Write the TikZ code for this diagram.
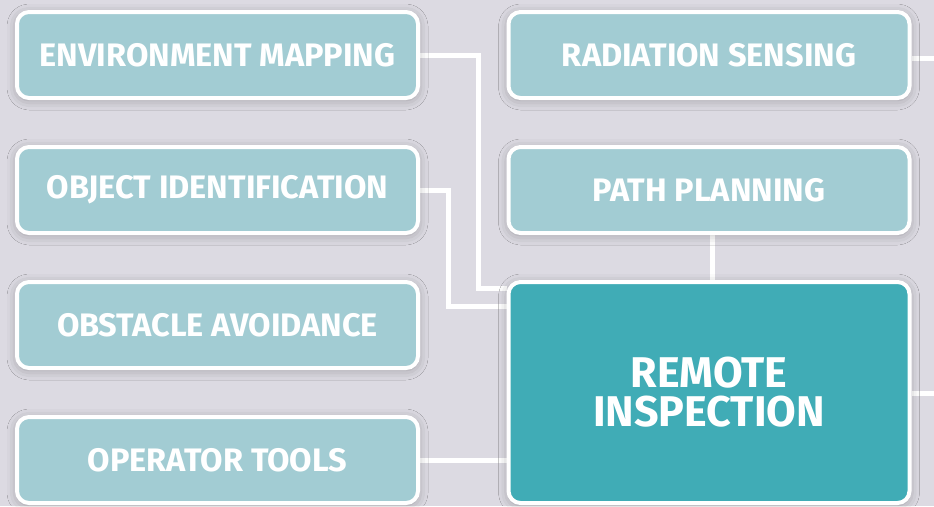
\documentclass[tikz,border=0pt]{standalone}
\usepackage{fontspec}
\setmainfont{Fira Sans Bold}
\usetikzlibrary{positioning,shadows.blur}

\definecolor{bgcol}{RGB}{220,218,226}
\definecolor{lightbox}{RGB}{162,204,211}
\definecolor{mainbox}{RGB}{64,172,182}

\pgfdeclarelayer{background}
\pgfsetlayers{background,main}

\tikzset{
  task/.style={draw=white, line width=4pt, fill=lightbox, rounded corners=12pt,
    minimum width=401pt, minimum height=86pt, text=white, font=\fontsize{32.5}{34}\selectfont,
    blur shadow={shadow xshift=0pt, shadow yshift=-2pt, shadow blur radius=10pt, shadow opacity=30}},
  hub/.style={task, fill=mainbox, minimum height=221pt, align=center,
    font=\fontsize{43}{45}\selectfont},
  wire/.style={draw=white, line width=5pt}
}

\begin{document}
\begin{tikzpicture}[x=1pt, y=-1pt]
        \useasboundingbox (0,0) rectangle (934,506);
        % Left column
        \node [task] (envmap) at (217.5,55) {ENVIRONMENT MAPPING};
        \node [task] (objid) at (217.5,190) {OBJECT IDENTIFICATION};
        \node [task] (obstacle) at (217.5,325) {OBSTACLE AVOIDANCE};
        \node [task] (optools) at (217.5,460) {OPERATOR TOOLS};
        % Right column
        \node [task] (radsense) at (709,55) {RADIATION SENSING};
        \node [task] (pathplan) at (709,190) {PATH PLANNING};
        \node [hub] (remote) at (709,392.5) {REMOTE\\[-6pt]INSPECTION};
        \coordinate (rsout) at (940,58);
        \coordinate (riout) at (940,393);
        % Draw background and connectors
        \begin{pgfonlayer}{background}
        \fill [bgcol] (0,0) rectangle (934,506);
        \draw [wire] (envmap.east) -- ++(58,0) |- ([yshift=-8pt]remote.north west);
        \draw [wire] (objid.east) -- ++(28,0) |- ([yshift=-26pt]remote.north west);
        \draw [wire] (optools.east) -- (optools.east -| remote.west);
        \draw [wire] ([xshift=3pt]pathplan.south) -- ([xshift=3pt]remote.north);
        \draw [wire] (radsense.east |- rsout) -- (rsout);
        \draw [wire] (remote.east |- riout) -- (riout);
        \end{pgfonlayer}
\end{tikzpicture}
\end{document}
